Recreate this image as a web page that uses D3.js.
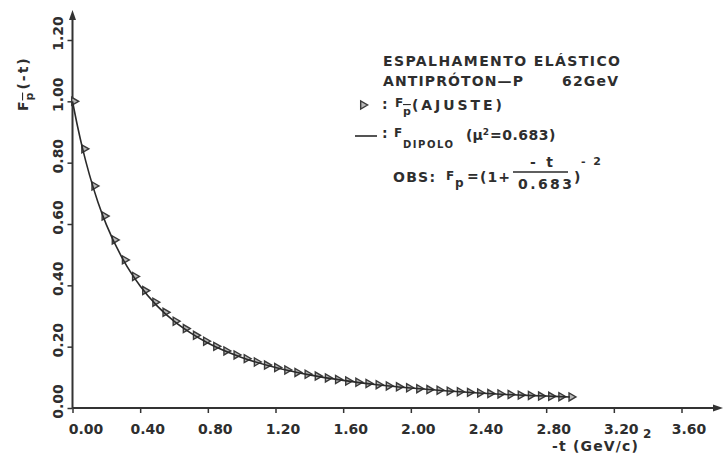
<!DOCTYPE html>
<html>
<head>
    <meta charset="utf-8" />
    <title>Espalhamento elástico antipróton-p</title>
    <style>
        body {
            margin: 0;
            background: #fff;
            font-family: 'DejaVu Sans', sans-serif;
        }

        text {
            fill: #2e2e2e;
            font-weight: bold;
        }

        .tick text {
            font-family: 'DejaVu Sans', sans-serif;
            font-size: 14px;
        }

        .tick line {
            stroke: #333;
            stroke-width: 1.5;
        }

        .legend text {
            font-size: 14px;
        }
    </style>
</head>
<body>
    <script src="https://d3js.org/d3.v7.min.js"></script>
    <script>
        // pontos do ajuste (triângulos)
        let tFit = [0.00, 0.06, 0.12, 0.18, 0.24, 0.30, 0.36, 0.42, 0.48, 0.54,
                    0.60, 0.66, 0.72, 0.78, 0.84, 0.90, 0.96, 1.02, 1.08, 1.14,
                    1.20, 1.26, 1.32, 1.38, 1.44, 1.50, 1.56, 1.62, 1.68, 1.74,
                    1.80, 1.86, 1.92, 1.98, 2.04, 2.10, 2.16, 2.22, 2.28, 2.34,
                    2.40, 2.46, 2.52, 2.58, 2.64, 2.70, 2.76, 2.82, 2.88, 2.94]
        let fFit = [1.000, 0.845, 0.724, 0.626, 0.548, 0.483, 0.429, 0.383, 0.345, 0.312,
                    0.283, 0.259, 0.237, 0.218, 0.201, 0.186, 0.173, 0.161, 0.150, 0.140,
                    0.132, 0.124, 0.116, 0.110, 0.104, 0.098, 0.093, 0.088, 0.084, 0.080,
                    0.076, 0.072, 0.069, 0.066, 0.063, 0.060, 0.058, 0.055, 0.053, 0.051,
                    0.049, 0.047, 0.046, 0.044, 0.042, 0.041, 0.039, 0.038, 0.037, 0.036]

        // curva dipolo (linha continua)
        let tDip = [0, 0.03, 0.06, 0.10, 0.15, 0.20, 0.30, 0.40, 0.50, 0.60, 0.70, 0.80,
                    1.00, 1.20, 1.40, 1.60, 1.80, 2.00, 2.20, 2.40, 2.60, 2.80, 2.94]
        let fDip = [1.000, 0.918, 0.845, 0.761, 0.672, 0.598, 0.483, 0.398, 0.333, 0.283, 0.244, 0.212,
                    0.165, 0.132, 0.108, 0.090, 0.076, 0.065, 0.056, 0.049, 0.043, 0.039, 0.036]

        let xTicks = [0, 0.4, 0.8, 1.2, 1.6, 2.0, 2.4, 2.8, 3.2, 3.6]
        let yTicks = [0, 0.2, 0.4, 0.6, 0.8, 1.0, 1.2]

        let width = 725,
            height = 462

        let x = d3.scaleLinear().domain([0, 3.6]).range([72.5, 681.5])
        let y = d3.scaleLinear().domain([0, 1.2]).range([408, 40])

        let svg = d3.select('body')
                    .append('svg')
                    .attr('width', width)
                    .attr('height', height)

        // eixos
        let xAxis = svg.append('g')
            .attr('transform', `translate(0, ${y(0)})`)
            .call(d3.axisBottom(x).tickValues(xTicks).tickSize(5).tickSizeOuter(0)
                .tickFormat(d3.format('.2f')))
        xAxis.select('.domain').remove()
        xAxis.selectAll('.tick text')
            .attr('y', 26)
            .attr('dy', 0)
            .attr('dx', function (d) { return d === 0 ? 13 : 7 })

        let yAxis = svg.append('g')
            .attr('transform', `translate(${x(0)}, 0)`)
            .call(d3.axisLeft(y).tickValues(yTicks).tickSize(5).tickSizeOuter(0)
                .tickFormat(d3.format('.2f')))
        yAxis.select('.domain').remove()
        yAxis.selectAll('.tick text')
            .attr('x', 0)
            .attr('dy', '0.36em')
            .attr('text-anchor', 'middle')
            .attr('transform', 'translate(-15, -7) rotate(-90)')

        let axisLines = svg.append('g')
            .attr('stroke', '#333')
            .attr('stroke-width', 2)
        axisLines.append('line')
            .attr('x1', x(0)).attr('y1', y(0))
            .attr('x2', 716).attr('y2', y(0))
        axisLines.append('line')
            .attr('x1', x(0)).attr('y1', y(0))
            .attr('x2', x(0)).attr('y2', 18)

        svg.append('path')
            .attr('d', `M723,${y(0)} L713,${y(0) - 3.5} L713,${y(0) + 3.5} Z`)
            .attr('fill', '#333')
        svg.append('path')
            .attr('d', `M${x(0)},10 L${x(0) - 3.5},20 L${x(0) + 3.5},20 Z`)
            .attr('fill', '#333')

        // pontos
        let fitData = tFit.map(function (t, i) { return { t: t, f: fFit[i] } })
        let dipData = tDip.map(function (t, i) { return { t: t, f: fDip[i] } })

        let tri = d3.symbol().type(d3.symbolTriangle).size(28)

        svg.append('g')
            .selectAll('path')
            .data(fitData)
            .enter()
                .append('path')
                .attr('d', tri)
                .attr('transform', function (d) {
                    return `translate(${x(d.t) + 1.5}, ${y(d.f)}) rotate(90)`
                })
                .attr('fill', '#b8b8b8')
                .attr('stroke', '#3a3a3a')
                .attr('stroke-width', 1.4)

        svg.append('path')
            .datum(dipData)
            .attr('fill', 'none')
            .attr('stroke', '#2a2a2a')
            .attr('stroke-width', 1.6)
            .attr('d', d3.line()
                .x(function (d) { return x(d.t) })
                .y(function (d) { return y(d.f) })
                .curve(d3.curveMonotoneX))

        // titulo eixo y
        let yTitle = svg.append('text')
            .attr('transform', 'translate(28, 111) rotate(-90)')
            .style('font-size', '14px')
        yTitle.append('tspan').text('F')
        yTitle.append('tspan').text('p')
            .attr('dy', 5).attr('dx', 1)
            .style('font-size', '11px')
            .style('text-decoration', 'overline')
        yTitle.append('tspan').text('(-t)')
            .attr('dy', -5).attr('dx', 3)
            .style('letter-spacing', '2px')

        // titulo eixo x
        svg.append('text')
            .attr('x', 552).attr('y', 451)
            .attr('textLength', 86)
            .style('font-size', '14px')
            .text('-t (GeV/c)')
        svg.append('text')
            .attr('x', 643).attr('y', 438)
            .style('font-size', '12px')
            .text('2')

        // legenda
        let leg = svg.append('g').classed('legend', true)

        leg.append('text').attr('x', 383).attr('y', 66).attr('textLength', 237)
            .text('ESPALHAMENTO ELÁSTICO')
        leg.append('text').attr('x', 383).attr('y', 86).attr('textLength', 140)
            .text('ANTIPRÓTON—P')
        leg.append('text').attr('x', 562).attr('y', 86).attr('textLength', 56)
            .text('62GeV')

        leg.append('path')
            .attr('d', tri)
            .attr('transform', 'translate(363, 105) rotate(90)')
            .attr('fill', '#b8b8b8')
            .attr('stroke', '#3a3a3a')
            .attr('stroke-width', 1.4)
        leg.append('text').attr('x', 382).attr('y', 109).text(':')
        leg.append('text').attr('x', 395).attr('y', 107).style('font-size', '12px').text('F')
        leg.append('text').attr('x', 403).attr('y', 115).style('font-size', '11px')
            .style('text-decoration', 'overline').text('p')
        leg.append('text').attr('x', 412).attr('y', 110).attr('textLength', 90)
            .text('(AJUSTE)')

        leg.append('line')
            .attr('x1', 355).attr('x2', 377)
            .attr('y1', 136).attr('y2', 136)
            .attr('stroke', '#2a2a2a').attr('stroke-width', 1.6)
        leg.append('text').attr('x', 382).attr('y', 138).text(':')
        leg.append('text').attr('x', 394).attr('y', 137).style('font-size', '12px').text('F')
        leg.append('text').attr('x', 403).attr('y', 148).attr('textLength', 50)
            .style('font-size', '10px').text('DIPOLO')
        let mu = leg.append('text').attr('x', 466).attr('y', 140)
        mu.append('tspan').text('(μ')
        mu.append('tspan').text('2').attr('dy', -5).style('font-size', '9px')
        mu.append('tspan').text('=0.683)').attr('dy', 5).attr('dx', 1)
            .style('letter-spacing', '0.5px')

        leg.append('text').attr('x', 393).attr('y', 182).attr('textLength', 42).text('OBS:')
        leg.append('text').attr('x', 446).attr('y', 180).style('font-size', '12px').text('F')
        leg.append('text').attr('x', 455).attr('y', 187).style('font-size', '12px').text('p')
        leg.append('text').attr('x', 467).attr('y', 181).text('=')
        leg.append('text').attr('x', 480).attr('y', 182).attr('textLength', 30).text('(1+')
        leg.append('text').attr('x', 530).attr('y', 167).attr('textLength', 23).text('-t')
        leg.append('line')
            .attr('x1', 513).attr('x2', 568)
            .attr('y1', 172).attr('y2', 172)
            .attr('stroke', '#2a2a2a').attr('stroke-width', 1.4)
        leg.append('text').attr('x', 518).attr('y', 189).attr('textLength', 54).text('0.683')
        leg.append('text').attr('x', 574).attr('y', 182).text(')')
        leg.append('text').attr('x', 581).attr('y', 165).attr('textLength', 20)
            .style('font-size', '11px').text('-2')
    </script>
</body>
</html>
